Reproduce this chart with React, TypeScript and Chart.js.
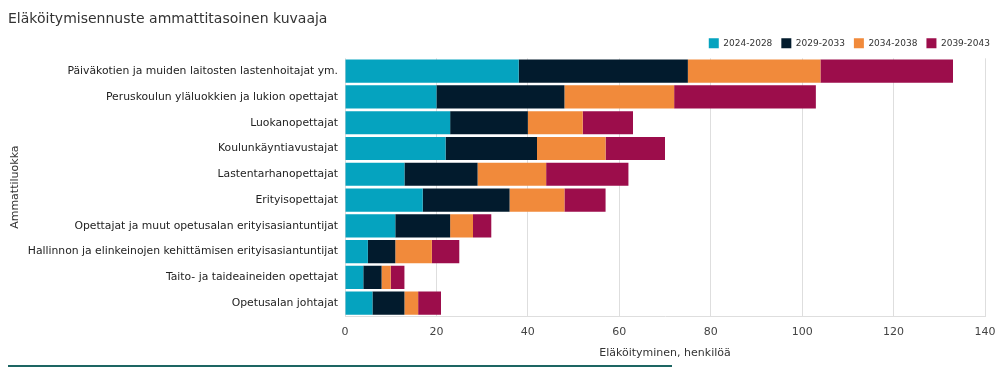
import React, { useEffect, useRef } from "react";
import { Chart, registerables } from "chart.js";

Chart.register(...registerables);

const categories = [
  "Päiväkotien ja muiden laitosten lastenhoitajat ym.",
  "Peruskoulun yläluokkien ja lukion opettajat",
  "Luokanopettajat",
  "Koulunkäyntiavustajat",
  "Lastentarhanopettajat",
  "Erityisopettajat",
  "Opettajat ja muut opetusalan erityisasiantuntijat",
  "Hallinnon ja elinkeinojen kehittämisen erityisasiantuntijat",
  "Taito- ja taideaineiden opettajat",
  "Opetusalan johtajat",
];

const seriesLabels = ["2024-2028", "2029-2033", "2034-2038", "2039-2043"];
const s2024 = [38, 20, 23, 22, 13, 17, 11, 5, 4, 6];
const s2029 = [37, 28, 17, 20, 16, 19, 12, 6, 4, 7];
const s2034 = [29, 24, 12, 15, 15, 12, 5, 8, 2, 3];
const s2039 = [29, 31, 11, 13, 18, 9, 4, 6, 3, 5];
const seriesColors = ["#05a3bf", "#021b2d", "#f18a3b", "#9c0d4b"];
const xTicks = [0, 20, 40, 60, 80, 100, 120, 140];

const FONT = "'DejaVu Sans', Verdana, sans-serif";

const legendShift = {
  id: "legendShift",
  afterLayout(chart: any) {
    if (chart.legend) {
      chart.legend.left += 14;
      chart.legend.right += 14;
    }
  },
};

export default function App() {
  const ref = useRef<HTMLCanvasElement | null>(null);
  useEffect(() => {
    if (!ref.current) return;
    const values = [s2024, s2029, s2034, s2039];
    const chart = new Chart(ref.current, {
      type: "bar",
      data: {
        labels: categories,
        datasets: values.map((v, i) => ({
          label: seriesLabels[i],
          data: v,
          backgroundColor: seriesColors[i],
          borderWidth: 0,
          barPercentage: 0.9,
          categoryPercentage: 1,
        })),
      },
      plugins: [legendShift],
      options: {
        indexAxis: "y",
        animation: false,
        responsive: false,
        maintainAspectRatio: false,
        layout: { padding: { left: 8, right: 23, top: 0, bottom: 18 } },
        plugins: {
          title: {
            display: true,
            text: "Eläköitymisennuste ammattitasoinen kuvaaja",
            align: "start",
            color: "#333",
            font: { family: FONT, size: 14, weight: "normal" },
            padding: { top: 11, bottom: 1.5 },
          },
          legend: {
            display: true,
            position: "top",
            align: "end",
            labels: {
              boxWidth: 10,
              boxHeight: 10,
              padding: 9,
              color: "#333",
              font: { family: FONT, size: 9 },
            },
          },
          tooltip: { enabled: false },
        },
        scales: {
          x: {
            stacked: true,
            min: 0,
            max: 140,
            afterBuildTicks: (s: any) => {
              s.ticks = xTicks.map((v) => ({ value: v }));
            },
            afterFit: (s: any) => {
              s.height = 50;
            },
            grid: { color: "#dedede", drawTicks: false },
            border: { color: "#dedede" },
            ticks: {
              color: "#444",
              padding: 10,
              font: { family: FONT, size: 11 },
            },
            title: {
              display: true,
              text: "Eläköityminen, henkilöä",
              color: "#333",
              font: { family: FONT, size: 11 },
              padding: { top: 0, bottom: 6 },
            },
          },
          y: {
            stacked: true,
            afterFit: (s: any) => {
              s.width = 337;
            },
            grid: { display: false, drawTicks: false },
            border: { display: false },
            ticks: {
              color: "#222",
              padding: 7,
              font: { family: FONT, size: 10.8 },
            },
            title: {
              display: true,
              text: "Ammattiluokka",
              color: "#333",
              font: { family: FONT, size: 11 },
              padding: { top: 1, bottom: 4 },
            },
          },
        },
      },
    });
    return () => chart.destroy();
  }, []);
  return (
    <div style={{ position: "relative", width: 1008, height: 384, margin: -8, overflow: "hidden" }}>
      <canvas ref={ref} width={1008} height={384} style={{ position: "absolute", left: 0, top: 0 }} />
      <div
        style={{
          position: "absolute",
          left: 5,
          top: 365,
          width: 667,
          height: 2,
          background: "#1d6663",
        }}
      />
    </div>
  );
}
